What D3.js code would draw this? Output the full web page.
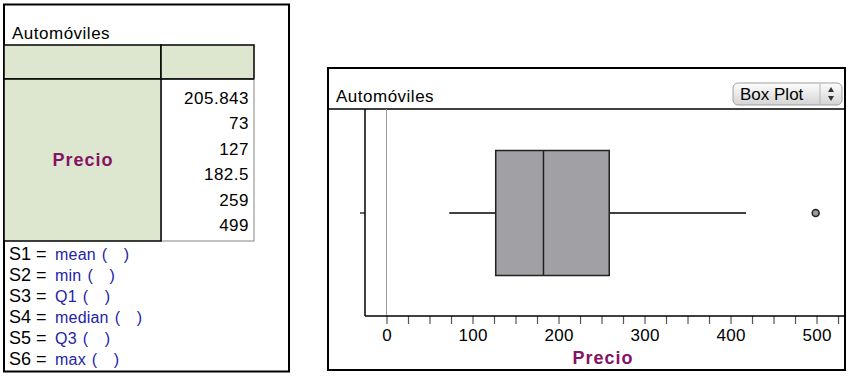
<!DOCTYPE html>
<html>
<head>
<meta charset="utf-8">
<script src="https://cdn.jsdelivr.net/npm/d3@7"></script>
<style>
  body { margin: 0; background: #fff; }
  text { font-family: Arial, 'Liberation Sans', sans-serif; }
</style>
</head>
<body>
<svg id="fig"></svg>
<script>
const title = 'Automóviles';
const attribute = 'Precio';
const statNames = ['mean', 'min', 'Q1', 'median', 'Q3', 'max'];
const statValues = [205.843, 73, 127, 182.5, 259, 499];
const statLabels = ['205.843', '73', '127', '182.5', '259', '499'];
const upperWhisker = 418; // largest value inside the fence
const outliers = [499];
const tickValues = [0, 25, 50, 75, 100, 125, 150, 175, 200, 225, 250, 275, 300, 325, 350, 375, 400, 425, 450, 475, 500, 525];

const green = '#dde7cf';
const purple = '#861266';
const blue = '#2323a8';

const svg = d3.select('#fig')
    .attr('width', 850)
    .attr('height', 377);

// ---- left panel: case table + formulas
function renderTable(g) {
    g.append('rect')
        .attr('x', 4).attr('y', 4.5).attr('width', 285).attr('height', 367)
        .attr('fill', '#fff').attr('stroke', '#000').attr('stroke-width', 2);
    g.append('text')
        .attr('x', 12).attr('y', 39)
        .attr('font-size', 17).attr('letter-spacing', 0.5)
        .text(title);

    // header row
    g.append('rect').attr('x', 4).attr('y', 45).attr('width', 157).attr('height', 34)
        .attr('fill', green).attr('stroke', '#000').attr('stroke-width', 1.5);
    g.append('rect').attr('x', 161).attr('y', 45).attr('width', 93).attr('height', 34)
        .attr('fill', green).attr('stroke', '#000').attr('stroke-width', 1.5);

    // data row
    g.append('rect').attr('x', 161).attr('y', 79).attr('width', 93).attr('height', 162)
        .attr('fill', '#fff').attr('stroke', '#999').attr('stroke-width', 1.2);
    g.append('rect').attr('x', 4).attr('y', 79).attr('width', 157).attr('height', 162)
        .attr('fill', green).attr('stroke', '#000').attr('stroke-width', 1.5);
    g.append('line').attr('x1', 161).attr('x2', 254).attr('y1', 79).attr('y2', 79)
        .attr('stroke', '#000').attr('stroke-width', 1.5);

    g.append('text')
        .attr('x', 83).attr('y', 166)
        .attr('text-anchor', 'middle')
        .attr('font-size', 18).attr('font-weight', 'bold').attr('letter-spacing', 1)
        .attr('fill', purple)
        .text(attribute);

    const rowY = d3.scaleLinear().domain([0, statLabels.length - 1]).range([104, 231]);
    g.selectAll('text.val').data(statLabels)
        .enter().append('text')
        .attr('class', 'val')
        .attr('x', 249).attr('y', (d, i) => rowY(i))
        .attr('text-anchor', 'end')
        .attr('font-size', 17).attr('letter-spacing', 0.5)
        .text(d => d);

    const fY = d3.scaleLinear().domain([0, statNames.length - 1]).range([260, 365]);
    const rows = g.selectAll('g.formula').data(statNames)
        .enter().append('g')
        .attr('class', 'formula')
        .attr('transform', (d, i) => `translate(0,${fY(i)})`);
    rows.append('text')
        .attr('x', 9)
        .attr('font-size', 18)
        .text((d, i) => `S${i + 1} =`);
    rows.each(function (d) {
        const r = d3.select(this);
        const name = r.append('text')
            .attr('x', 55)
            .attr('font-size', 16).attr('letter-spacing', 0.2)
            .attr('fill', blue)
            .text(d);
        const end = 55 + name.node().getComputedTextLength() + 6;
        r.append('text').attr('x', end).attr('font-size', 16).attr('fill', blue).text('(');
        r.append('text').attr('x', end + 22).attr('font-size', 16).attr('fill', blue).text(')');
    });
}

// ---- right panel: box plot
function renderBoxPlot(g) {
    const left = 365, right = 845, top = 109, base = 316;
    const midY = 213, boxH = 125;

    g.append('rect')
        .attr('x', 328).attr('y', 68).attr('width', 517).attr('height', 302)
        .attr('fill', '#fff').attr('stroke', '#000').attr('stroke-width', 2);
    g.append('line').attr('x1', 328).attr('x2', 845).attr('y1', top).attr('y2', top)
        .attr('stroke', '#000').attr('stroke-width', 1.5);
    g.append('text')
        .attr('x', 336).attr('y', 102)
        .attr('font-size', 17).attr('letter-spacing', 0.5)
        .text(title);

    // "Box Plot" menu button
    const grad = svg.append('defs').append('linearGradient')
        .attr('id', 'btn').attr('x1', 0).attr('x2', 0).attr('y1', 0).attr('y2', 1);
    grad.append('stop').attr('offset', '0%').attr('stop-color', '#fdfdfd');
    grad.append('stop').attr('offset', '100%').attr('stop-color', '#d4d4d4');
    g.append('rect')
        .attr('x', 733).attr('y', 83).attr('width', 109).attr('height', 22).attr('rx', 5)
        .attr('fill', 'url(#btn)').attr('stroke', '#a0a0a0');
    g.append('line').attr('x1', 820).attr('x2', 820).attr('y1', 84).attr('y2', 104)
        .attr('stroke', '#b5b5b5');
    g.append('text')
        .attr('x', 740).attr('y', 100)
        .attr('font-size', 17)
        .text('Box Plot');
    g.append('path').attr('d', 'M828,92 L831,87 L834,92 Z').attr('fill', '#333');
    g.append('path').attr('d', 'M828,96 L831,101 L834,96 Z').attr('fill', '#333');

    const x = d3.scaleLinear().domain([-25, 533.1]).range([left, right]);

    // zero reference line
    g.append('line')
        .attr('x1', x(0)).attr('x2', x(0)).attr('y1', top).attr('y2', base)
        .attr('stroke', '#999').attr('stroke-width', 1);

    const axis = g.append('g')
        .attr('transform', `translate(0,${base})`)
        .call(d3.axisBottom(x)
            .tickValues(tickValues)
            .tickSize(8)
            .tickPadding(5)
            .tickFormat(d => d % 100 === 0 ? d : ''));
    axis.select('.domain').remove();
    axis.selectAll('.tick line').attr('stroke', '#555').attr('stroke-width', 1.2);
    axis.selectAll('.tick text')
        .attr('font-size', 17).attr('letter-spacing', 0.3)
        .attr('font-family', "Arial, 'Liberation Sans', sans-serif")
        .attr('fill', '#000');

    // axis lines
    g.append('line').attr('x1', left).attr('x2', right).attr('y1', base).attr('y2', base)
        .attr('stroke', '#000').attr('stroke-width', 1.5);
    g.append('line').attr('x1', left).attr('x2', left).attr('y1', top).attr('y2', base)
        .attr('stroke', '#000').attr('stroke-width', 1.5);
    g.append('line').attr('x1', left - 5).attr('x2', left).attr('y1', midY).attr('y2', midY)
        .attr('stroke', '#000').attr('stroke-width', 1.2);

    const [mean, minV, q1, med, q3, maxV] = statValues;

    // whiskers
    g.append('line').attr('x1', x(minV)).attr('x2', x(q1)).attr('y1', midY).attr('y2', midY)
        .attr('stroke', '#000').attr('stroke-width', 1.5);
    g.append('line').attr('x1', x(q3)).attr('x2', x(upperWhisker)).attr('y1', midY).attr('y2', midY)
        .attr('stroke', '#000').attr('stroke-width', 1.5);

    // box
    g.append('rect')
        .attr('x', x(q1)).attr('y', midY - boxH / 2)
        .attr('width', x(q3) - x(q1)).attr('height', boxH)
        .attr('fill', '#a1a0a5').attr('stroke', '#222').attr('stroke-width', 1.5);
    g.append('line')
        .attr('x1', x(med)).attr('x2', x(med))
        .attr('y1', midY - boxH / 2).attr('y2', midY + boxH / 2)
        .attr('stroke', '#222').attr('stroke-width', 1.5);

    g.selectAll('circle.out').data(outliers)
        .enter().append('circle')
        .attr('class', 'out')
        .attr('cx', d => x(d)).attr('cy', midY).attr('r', 3.5)
        .attr('fill', '#9a9a9a').attr('stroke', '#222').attr('stroke-width', 1.5);

    g.append('text')
        .attr('x', 603).attr('y', 364)
        .attr('text-anchor', 'middle')
        .attr('font-size', 18).attr('font-weight', 'bold').attr('letter-spacing', 1)
        .attr('fill', purple)
        .text(attribute);
}

svg.append('rect').attr('width', 850).attr('height', 377).attr('fill', '#fff');
renderTable(svg.append('g'));
renderBoxPlot(svg.append('g'));
</script>
</body>
</html>
